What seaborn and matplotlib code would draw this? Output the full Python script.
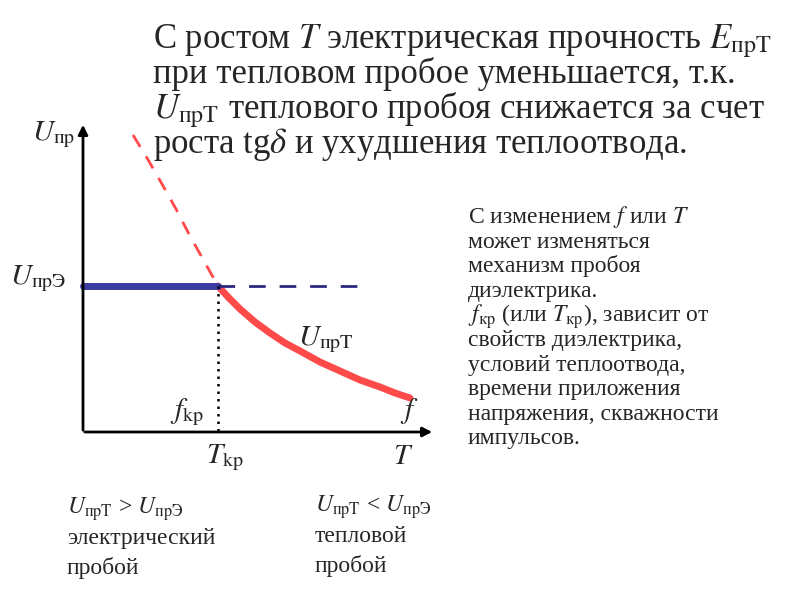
import matplotlib
matplotlib.use("Agg")
import matplotlib.pyplot as plt
import seaborn as sns

sns.set_theme(style="white")
plt.rcParams['font.family'] = ['Liberation Serif', 'DejaVu Serif']
plt.rcParams['mathtext.fontset'] = 'stix'

# curve points in diagram units (pixel-like canvas 800x600)
red_x = [218, 228, 240, 255, 270, 285, 300, 320, 340, 360, 380, 395, 410]
red_y = [286, 297, 309, 322, 333, 343, 351, 362, 371, 380, 387, 393, 398]
dash_x = [133, 147, 162, 176, 190, 204, 218]
dash_y = [135, 158, 184, 209, 236, 261, 286]
blue_x = [83, 218]
blue_y = [286, 286]
bdash_x = [218, 362]
bdash_y = [286, 286]

fig = plt.figure(figsize=(8, 6), dpi=100)
ax = fig.add_axes([0, 0, 1, 1])
ax.set_xlim(0, 800); ax.set_ylim(600, 0); ax.axis('off')

sns.lineplot(x=red_x, y=red_y, ax=ax, color='#ff4a4a', lw=5, sort=False)
sns.lineplot(x=dash_x, y=dash_y, ax=ax, color='#ff4a4a', lw=2, ls=(0, (5, 4)), sort=False)
sns.lineplot(x=blue_x, y=blue_y, ax=ax, color='#3c3ca0', lw=5)
sns.lineplot(x=bdash_x, y=bdash_y, ax=ax, color='#2a2a80', lw=2, ls=(0, (6, 5)))
ax.plot([218, 218], [286, 432], color='black', lw=1.8, ls=(0, (1, 2)))
ax.annotate('', xy=(83, 122), xytext=(83, 433), arrowprops=dict(arrowstyle='-|>', color='black', lw=2, mutation_scale=14))
ax.annotate('', xy=(435, 432), xytext=(82, 432), arrowprops=dict(arrowstyle='-|>', color='black', lw=2, mutation_scale=14))

fs = 25
title = ["С ростом $T$ электрическая прочность $E_{\\mathrm{прT}}$",
         "при тепловом пробое уменьшается, т.к.",
         "$U_{\\mathrm{прT}}$ теплового пробоя снижается за счет",
         "роста tg$\\delta$ и ухудшения теплоотвода."]
for i, t in enumerate(title):
    ax.text(153, 48 + 35 * i, t, fontsize=fs, va='baseline', ha='left')

lab = 21
ax.text(32, 140, "$U_{\\mathrm{пр}}$", fontsize=lab, va='baseline')
ax.text(10, 284, "$U_{\\mathrm{прЭ}}$", fontsize=lab, va='baseline')
ax.text(298, 345, "$U_{\\mathrm{прT}}$", fontsize=lab, va='baseline')
ax.text(170, 418, "$f_{\\mathrm{kp}}$", fontsize=lab, va='baseline')
ax.text(206, 463, "$T_{\\mathrm{kp}}$", fontsize=lab, va='baseline')
ax.text(400, 418, "$f$", fontsize=lab, va='baseline')
ax.text(393, 464, "$T$", fontsize=lab, va='baseline')

rs = 17
right = ["С изменением $f$ или $T$", "может изменяться", "механизм пробоя", "диэлектрика.",
         "$f_{\\mathrm{кр}}$ (или $T_{\\mathrm{кр}}$), зависит от", "свойств диэлектрика,",
         "условий теплоотвода,", "времени приложения", "напряжения, скважности", "импульсов."]
for i, t in enumerate(right):
    ax.text(468, 223 + 24.6 * i, t, fontsize=rs, va='baseline')

left = ["$U_{\\mathrm{прT}}$ > $U_{\\mathrm{прЭ}}$", "электрический", "пробой"]
for i, t in enumerate(left):
    ax.text(67, 514 + 30 * i, t, fontsize=rs, va='baseline')
mid = ["$U_{\\mathrm{прT}}$ < $U_{\\mathrm{прЭ}}$", "тепловой", "пробой"]
for i, t in enumerate(mid):
    ax.text(315, 512 + 30 * i, t, fontsize=rs, va='baseline')

fig.savefig("out.png", dpi=100)
